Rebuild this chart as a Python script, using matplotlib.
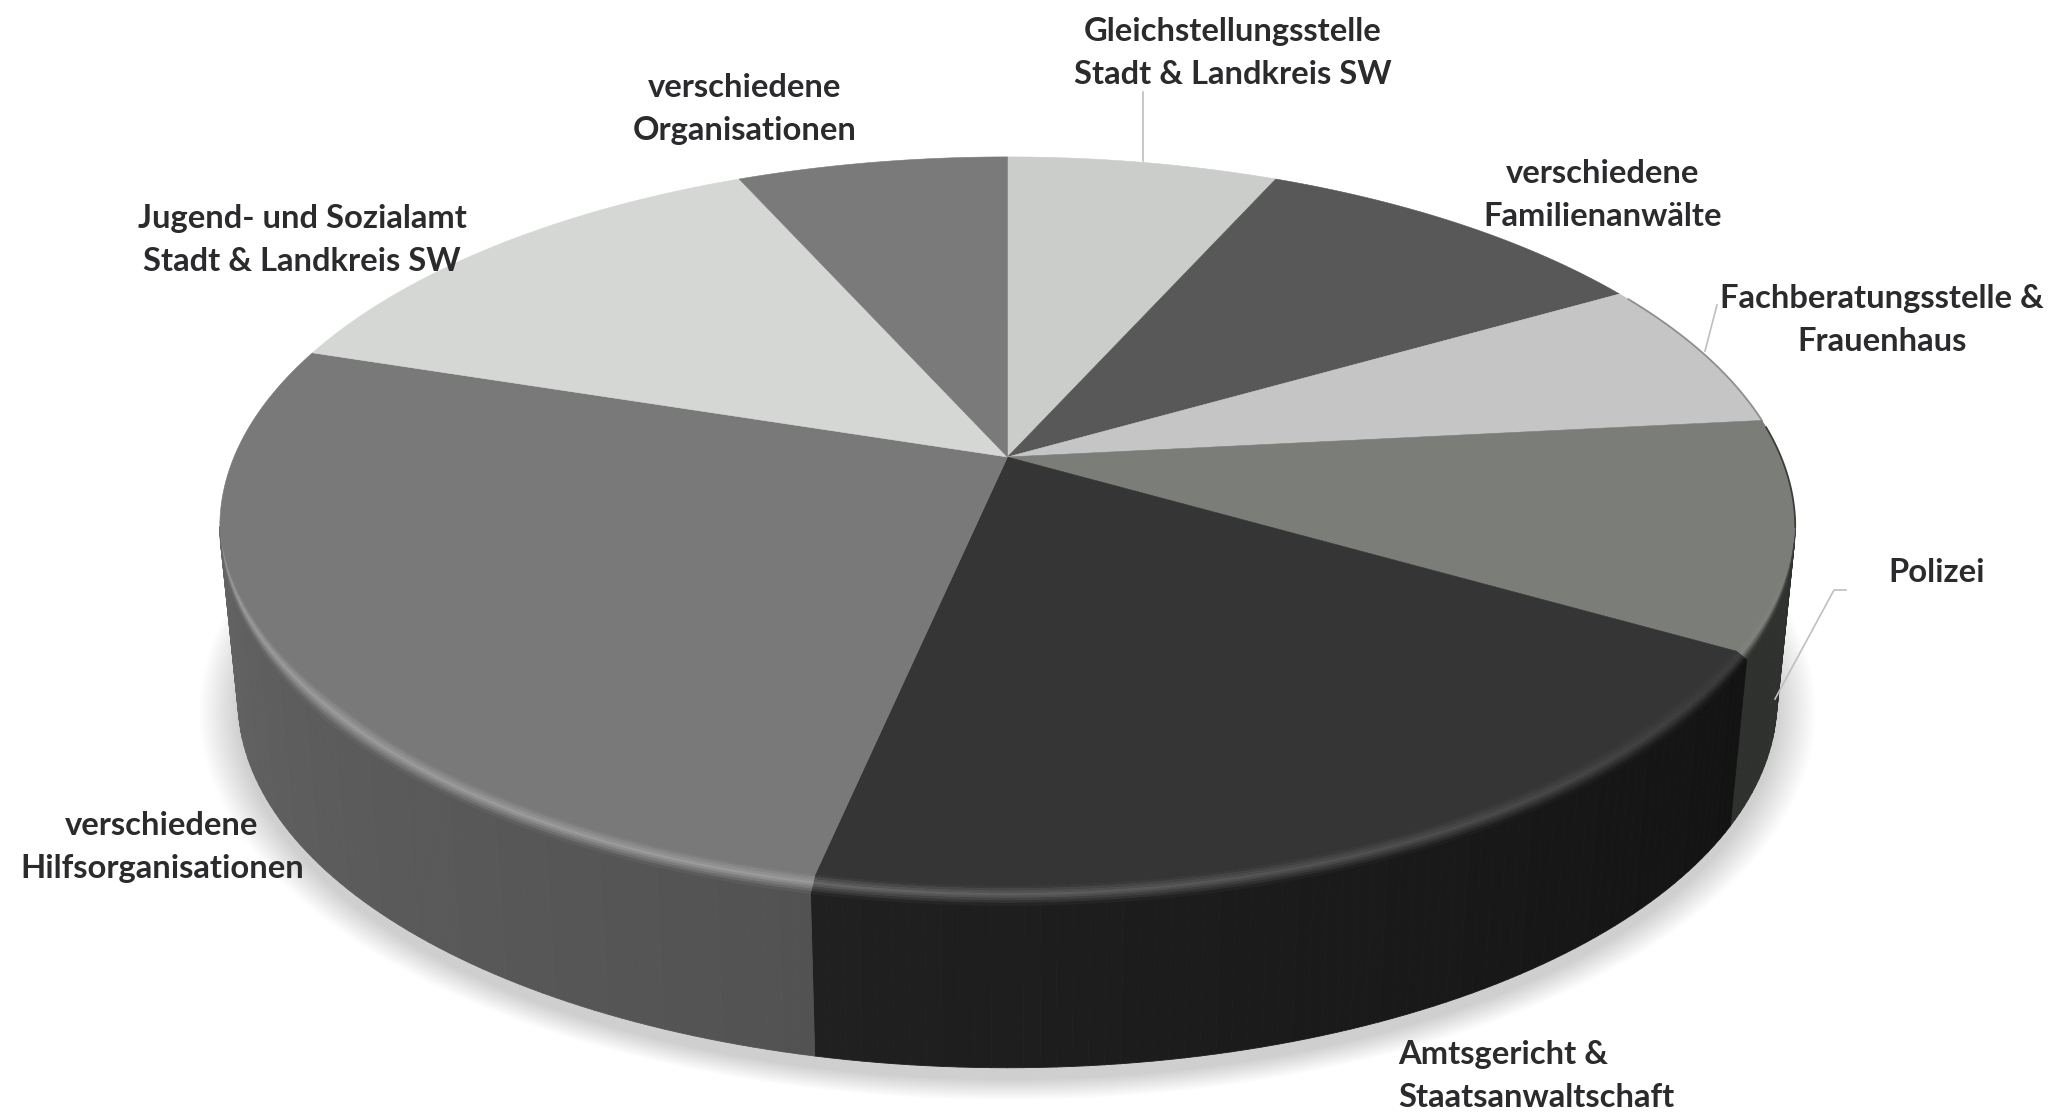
import numpy as np
import matplotlib
matplotlib.use('Agg')
import matplotlib.pyplot as plt
from matplotlib.collections import PolyCollection
from matplotlib.colors import to_rgb

labels = ['Gleichstellungsstelle\nStadt & Landkreis SW', 'verschiedene\nFamilienanwälte',
          'Fachberatungsstelle &\nFrauenhaus', 'Polizei', 'Amtsgericht &\nStaatsanwaltschaft',
          'verschiedene\nHilfsorganisationen', 'Jugend- und Sozialamt\nStadt & Landkreis SW',
          'verschiedene\nOrganisationen']
values = [2, 3, 2, 3, 6, 8, 4, 2]
top_colors = ['#cbcdca', '#585858', '#c5c5c5', '#7b7d78', '#353535', '#797979', '#d5d7d5', '#7a7a7a']
side_from = ['#2f312e', '#2f312e', '#2f312e', '#2f312e', '#131313', '#525252', '#6a6a6a', '#6a6a6a']
side_to = ['#2f312e', '#2f312e', '#2f312e', '#2f312e', '#202020', '#6a6a6a', '#6a6a6a', '#6a6a6a']
rim_lines = [None, None, '#8f8f8f', '#3c3e3a', None, None, None, None]
label_pos = [(1233, 53), (1603, 195), (1882, 320), (1937, 572), (1398, 1076),
             (162, 847), (302, 240), (745, 109)]
label_ha = ['center', 'center', 'center', 'center', 'left', 'center', 'center', 'center']
leaders = [[(1143, 92), (1143, 161)],
           [(1717, 305), (1705, 351)],
           [(1846, 590), (1834, 590), (1775, 699)]]

# perspective of the disc, in pixels of the 2061x1114 picture
CX, APEX_Y = 1007.5, 457
A, B, C = 356.8, 773.5, 0.189
BOTTOM_SX, BOTTOM_SY, BOTTOM_Y = 0.977, 0.995, 630
BEVEL_R, BEVEL_Z = 0.02, 0.05


def project(r, theta, z=0.0):
    x, y = r * np.sin(theta), r * np.cos(theta)
    den = 1 + C * y
    sx = 1 + (BOTTOM_SX - 1) * z
    sy = 1 + (BOTTOM_SY - 1) * z
    y0 = APEX_Y + (BOTTOM_Y - APEX_Y) * z
    return CX + B * x / den * sx, y0 - A * y / den * sy


def mix(c1, c2, t):
    return tuple(np.array(to_rgb(c1)) * (1 - t) + np.array(to_rgb(c2)) * t)


vis_a = np.arccos(-C)
vis_b = 2 * np.pi - vis_a


def bevel_w(theta):
    return np.clip((np.pi - vis_a - np.abs(theta - np.pi)) / 0.5, 0, 1)


def glow(theta):
    return np.clip((theta - np.radians(125)) / np.radians(70), 0, 1) * 0.22 + 0.03


fig = plt.figure(figsize=(20.61, 11.14), dpi=100)
ax = fig.add_axes([0, 0, 1, 1])
ax.set_xlim(0, 2061)
ax.set_ylim(1114, 0)
ax.axis('off')

# soft shadow under the disc
t_all = np.linspace(0, 2 * np.pi, 361)
sx0, sy0 = project(1.0, t_all, 1.0)
mid_y = (sy0.max() + sy0.min()) / 2
for k in range(24):
    f = 1.05 - k * 0.0022
    ax.fill(CX + (sx0 - CX) * f, mid_y + 12 + (sy0 - mid_y) * (1 + (f - 1) * 1.1), color='black',
            alpha=0.008, lw=0, zorder=1)

edges = np.radians(np.cumsum([0] + values) / sum(values) * 360)

for i in range(len(values)):
    t1, t2 = edges[i], edges[i + 1]

    # side wall
    lo, hi = max(t1, vis_a), min(t2, vis_b)
    if hi > lo:
        steps = np.linspace(lo, hi, max(int(np.degrees(hi - lo)), 2) + 1)
        polys, cols = [], []
        for a, b in zip(steps[:-1], steps[1:]):
            xa, ya = project(1.0, a, 0.0)
            xb, yb = project(1.0, b, 0.0)
            xc, yc = project(1.0, b, 1.0)
            xd, yd = project(1.0, a, 1.0)
            polys.append([(xa, ya), (xb, yb), (xc, yc), (xd, yd)])
            frac = ((a + b) / 2 - t1) / (t2 - t1)
            cols.append(mix(side_from[i], side_to[i], frac))
        ax.add_collection(PolyCollection(polys, facecolors=cols, edgecolors=cols, linewidths=0.6, zorder=2))

    # top face
    th = np.linspace(t1, t2, 120)
    r_in = 1 - BEVEL_R * bevel_w(th)
    fx, fy = project(r_in, th)
    ax.fill(np.r_[CX, fx], np.r_[APEX_Y, fy], color=top_colors[i], lw=0.4, zorder=4)

    # thin darker edge on the upper right
    if rim_lines[i]:
        arc = np.linspace(t1 + 0.02, min(t2, vis_a), 60)
        ex, ey = project(1.0, arc)
        ax.plot(ex, ey, color=rim_lines[i], lw=1.3, zorder=4)

    # rounded rim between face and wall
    if hi > lo:
        steps = np.linspace(lo, hi, max(int(np.degrees(hi - lo)), 2) + 1)
        polys, cols = [], []
        us = np.linspace(0, 1, 9)
        for a, b in zip(steps[:-1], steps[1:]):
            wa, wb = bevel_w(a), bevel_w(b)
            frac = ((a + b) / 2 - t1) / (t2 - t1)
            wall = mix(side_from[i], side_to[i], frac)
            peak = mix(top_colors[i], '#ffffff', glow((a + b) / 2))
            for u1, u2 in zip(us[:-1], us[1:]):
                q = []
                for th_q, w_q, u_q in [(a, wa, u1), (b, wb, u1), (b, wb, u2), (a, wa, u2)]:
                    q.append(project(1 - BEVEL_R * w_q * (1 - u_q), th_q, BEVEL_Z * w_q * u_q))
                polys.append(q)
                um = (u1 + u2) / 2
                if um < 0.45:
                    cols.append(mix(top_colors[i], peak, um / 0.45))
                else:
                    cols.append(mix(peak, wall, (um - 0.45) / 0.55))
        ax.add_collection(PolyCollection(polys, facecolors=cols, edgecolors=cols, linewidths=0.5, zorder=3))

for pts in leaders:
    ax.plot([p[0] for p in pts], [p[1] for p in pts], color='#bfbfbf', lw=1.2, zorder=5)

for lab, (x, y), ha in zip(labels, label_pos, label_ha):
    ax.text(x, y, lab, ha=ha, va='center', family='Lato', weight='bold', fontsize=23.6,
            color='#2b2b2d', linespacing=1.6, zorder=6)

fig.savefig('out.png', dpi=100, facecolor='white')
